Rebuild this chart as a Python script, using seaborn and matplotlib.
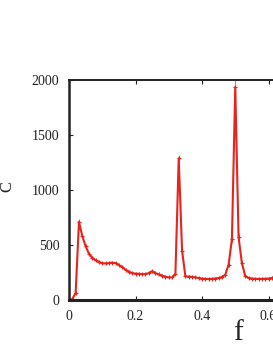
import numpy as np
import pandas as pd
import seaborn as sns
import matplotlib.pyplot as plt

# dados
f = [round(0.01 * i, 2) for i in range(66)]
C = [0, 8, 65, 710, 580, 490, 420, 385, 360, 345,
     335, 332, 335, 340, 335, 318, 300, 275, 258, 245,
     240, 238, 236, 235, 245, 262, 245, 232, 222, 212,
     205, 205, 236, 1288, 450, 215, 213, 210, 205, 200,
     195, 192, 190, 192, 195, 200, 210, 230, 320, 555,
     1935, 570, 335, 220, 200, 195, 192, 192, 192, 193,
     195, 200, 212, 215, 210, 205]
erro = [0, 2, 8, 25, 15, 10, 8, 8, 6, 6,
        6, 6, 6, 6, 6, 6, 6, 6, 6, 6,
        6, 6, 6, 6, 6, 6, 6, 6, 6, 6,
        6, 6, 10, 30, 45, 8, 6, 6, 6, 6,
        6, 6, 6, 6, 6, 6, 6, 8, 15, 35,
        80, 35, 15, 8, 6, 6, 6, 6, 6, 6,
        6, 6, 6, 6, 6, 6]

df = pd.DataFrame({'f': f, 'C': C, 'erro': erro})

sns.set_style('ticks')
plt.rcParams['font.family'] = ['Liberation Serif', 'DejaVu Serif']

fig = plt.figure(figsize=(2.73, 3.53), dpi=100)
ax = fig.add_axes([69 / 273, 53 / 353, 232.75 / 273, 220 / 353])

cor = '#e8231c'
ax.errorbar(df['f'], df['C'], yerr=df['erro'], fmt='none', ecolor=cor,
            elinewidth=0.8, alpha=0.6)
sns.lineplot(data=df, x='f', y='C', ax=ax, color=cor, linewidth=1.5,
             marker='+', markersize=3, markeredgewidth=0.8,
             markeredgecolor=cor)

ax.set_xlim(0, 0.7)
ax.set_ylim(0, 2000)
ax.set_xticks([0, 0.2, 0.4, 0.6])
ax.set_xticklabels(['0', '0.2', '0.4', '0.6'])
ax.set_yticks([0, 500, 1000, 1500, 2000])

ax.tick_params(direction='in', length=3, width=0.8, labelsize=10, pad=7,
               top=True, colors='#222222', labelcolor='#222222')
for lado in ['left', 'bottom', 'top']:
    ax.spines[lado].set_color('#222222')
ax.spines['left'].set_linewidth(1.8)
ax.spines['bottom'].set_linewidth(2.2)
ax.spines['top'].set_linewidth(1.4)
ax.spines['right'].set_visible(False)

ax.set_ylabel('C', fontsize=12)
ax.yaxis.set_label_coords(-62 / 232.75, 0.518)
ax.set_xlabel('f', fontsize=21)
ax.xaxis.set_label_coords((238 - 69) / 232.75, -33 / 220)
ax.xaxis.label.set_va('center')
ax.yaxis.label.set_va('center')

plt.savefig('out.png', dpi=100)
